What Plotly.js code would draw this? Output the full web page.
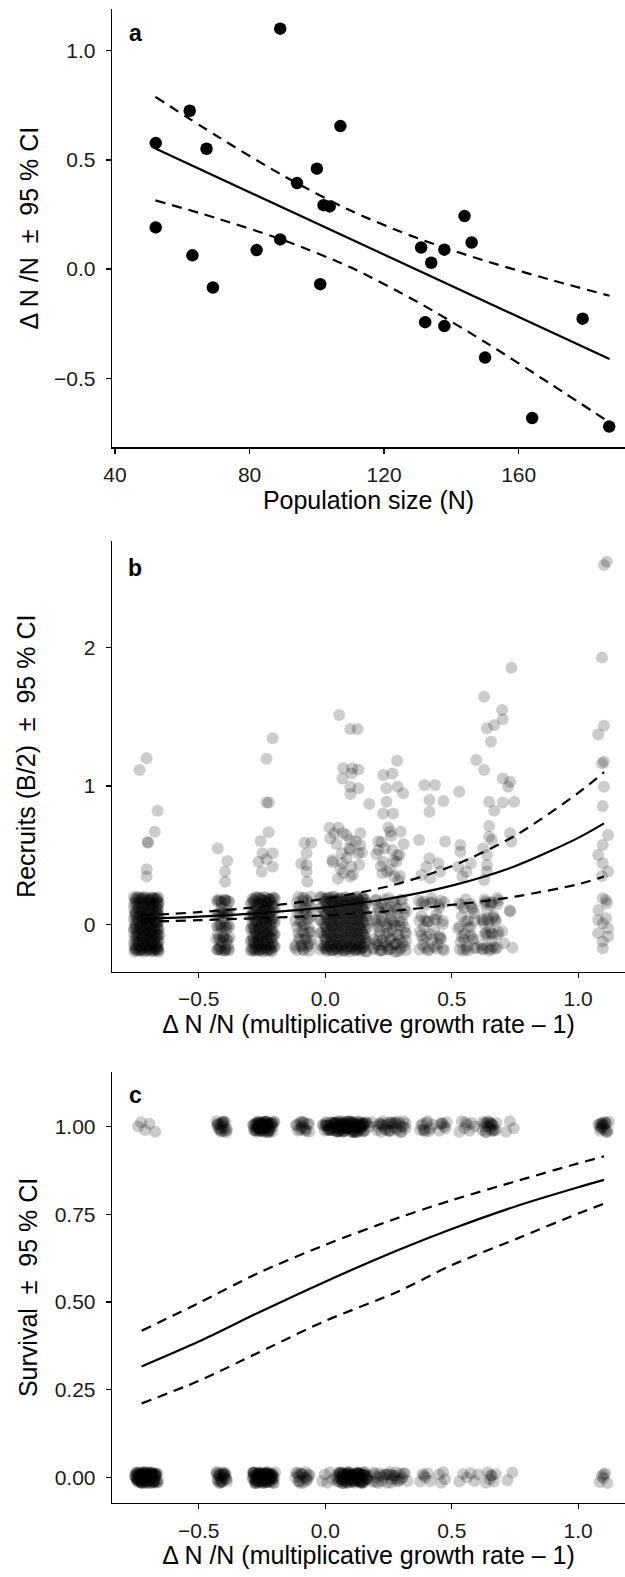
<!DOCTYPE html>
<html>
<head>
<meta charset="utf-8">
<script src="https://cdn.plot.ly/plotly-3.0.1.min.js"></script>
<style>html,body{margin:0;padding:0;background:#fff;}#chart{width:625px;height:1577px;}</style>
</head>
<body>
<div id="chart"></div>
<script>
// ---------- Panel a: growth rate vs population size ----------
var popSize = [52.1,52.1,62.2,63.0,67.2,69.1,82.1,89.1,89.1,94.1,100.0,101.0,102.0,103.8,107.0,131.0,132.2,134.0,137.9,137.9,143.9,146.0,150.0,164.0,179.0,186.9];
var growthRate = [0.577,0.191,0.725,0.063,0.551,-0.084,0.087,1.101,0.136,0.394,0.460,-0.069,0.293,0.287,0.655,0.099,-0.243,0.029,0.089,-0.261,0.243,0.122,-0.405,-0.682,-0.227,-0.721];
var fitA_x  = [52,70,90,110,130,150,170,187];
var fitA    = [0.552,0.423,0.280,0.138,-0.005,-0.148,-0.291,-0.412];
var fitA_hi = [0.789,0.612,0.428,0.268,0.141,0.038,-0.051,-0.122];
var fitA_lo = [0.315,0.234,0.133,0.008,-0.151,-0.334,-0.531,-0.702];

// ---------- Panel b: recruits vs growth rate (jittered points) ----------
var recruitUpperX = [
 -0.734,-0.706,-0.663,-0.674,-0.703,-0.706,-0.706,-0.700,
 -0.425,-0.387,-0.396,-0.396,
 -0.208,-0.232,-0.232,-0.223,-0.224,-0.256,-0.208,-0.264,-0.232,-0.251,-0.208,-0.248,
 -0.082,-0.055,-0.074,-0.074,-0.074,-0.071,-0.095,
 0.055,0.099,0.128,0.071,0.107,0.131,0.068,0.104,0.099,0.131,0.099,0.174,
 0.017,0.052,0.084,0.139,0.099,0.065,0.099,0.131,0.028,0.068,0.103,0.099,0.071,0.139,0.036,
 0.229,0.265,0.284,0.242,0.286,0.308,0.242,0.268,0.229,0.257,0.298,0.222,0.265,0.294,0.210,0.229,0.281,0.257,0.273,0.226,0.289,0.202,
 0.392,0.434,0.412,0.467,0.412,0.371,0.474,0.412,0.400,0.447,0.415,0.380,0.455,
 0.530,0.534,0.534,0.576,0.526,0.557,0.542,
 0.628,0.699,0.702,0.668,0.639,0.655,0.597,0.628,0.736,0.702,0.731,0.723,0.648,0.702,0.747,0.668,0.648,0.731,0.648,0.659,0.736,0.624,0.639,0.639,0.639,0.628,
 1.113,1.102,1.094,1.102,1.079,1.094,1.102,1.102,1.097,1.118,1.097,1.079,1.097,1.118,1.094,1.097,1.110,1.079,1.110,1.097,1.118,1.097,1.118,1.079,1.097,1.080,1.113,
 0.020,0.045,0.070,0.095,0.120,0.145,0.030,0.060,0.085,0.110,0.135,0.050,
 0.210,0.235,0.260,0.285,0.310,0.220,0.245,0.270,0.295,0.250
];
var recruitUpperY = [
 1.116,1.200,0.822,0.670,0.595,0.398,0.345,0.590,
 0.549,0.458,0.380,0.308,
 1.345,1.198,0.880,0.880,0.665,0.602,0.513,0.453,0.470,0.380,0.417,0.513,
 0.590,0.590,0.513,0.429,0.380,0.308,0.440,
 1.513,1.412,1.412,1.128,1.128,1.120,1.055,1.090,0.995,0.983,0.942,0.870,
 0.699,0.699,0.646,0.658,0.610,0.513,0.537,0.513,0.465,0.441,0.417,0.345,0.369,0.573,0.658,
 1.080,1.090,1.183,0.983,0.995,0.947,0.887,0.802,0.802,0.670,0.670,0.593,0.537,0.501,0.537,0.453,0.453,0.393,0.345,0.369,0.320,0.506,
 1.007,1.007,0.899,0.892,0.814,0.610,0.598,0.477,0.417,0.441,0.333,0.357,0.381,
 0.959,0.573,0.525,0.441,0.417,0.380,0.345,
 1.646,1.549,1.482,1.441,1.417,1.320,1.188,1.116,1.855,1.055,1.031,0.995,0.887,0.880,0.887,0.822,0.711,0.658,0.634,0.610,0.598,0.549,0.501,0.429,0.381,0.320,
 2.622,2.598,1.930,1.436,1.373,1.164,1.176,0.995,0.855,0.646,0.573,0.501,0.441,0.381,0.349,0.188,0.176,0.031,0.043,0.007,-0.089,-0.125,-0.029,-0.065,-0.173,0.104,0.152,
 0.620,0.580,0.660,0.550,0.600,0.520,0.450,0.400,0.480,0.360,0.430,0.330,
 0.600,0.550,0.640,0.500,0.580,0.420,0.380,0.460,0.350,0.700
];
var recruitBandX = [
 -0.752,-0.738,-0.724,-0.710,-0.696,-0.682,-0.668,-0.660,
 -0.745,-0.731,-0.717,-0.703,-0.689,-0.675,-0.662,-0.755,
 -0.752,-0.738,-0.724,-0.710,-0.696,-0.682,-0.668,-0.660,
 -0.745,-0.731,-0.717,-0.703,-0.689,-0.675,-0.662,-0.755,
 -0.752,-0.738,-0.724,-0.710,-0.696,-0.682,-0.668,-0.660,
 -0.745,-0.731,-0.717,-0.703,-0.689,-0.675,-0.662,-0.755,
 -0.752,-0.738,-0.724,-0.710,-0.696,-0.682,-0.668,-0.660,
 -0.745,-0.731,-0.717,-0.703,-0.689,-0.675,-0.662,-0.755,
 -0.752,-0.738,-0.724,-0.710,-0.696,-0.682,-0.668,-0.660,
 -0.745,-0.731,-0.717,-0.703,-0.689,-0.675,-0.662,-0.755,
 -0.745,-0.722,-0.700,-0.680,-0.660,-0.735,-0.710,-0.690,-0.665,-0.750,
 -0.728,-0.705,-0.684,-0.660,-0.742,-0.718,-0.695,-0.672,-0.755,-0.730,
 -0.706,-0.686,-0.663,-0.745,-0.720,-0.700,-0.678,-0.655,-0.738,-0.714,
 -0.690,-0.668,-0.750,-0.727,-0.703,-0.680,-0.660,-0.712,-0.725,-0.693,-0.707,-0.676,
 -0.428,-0.413,-0.398,-0.383, -0.420,-0.405,-0.390,-0.378, -0.428,-0.413,-0.398,-0.383,
 -0.420,-0.405,-0.390,-0.378, -0.428,-0.413,-0.398,-0.383,
 -0.420,-0.395,-0.410,-0.385,-0.425,-0.400,-0.415,-0.390,-0.425,-0.400,-0.410,-0.385,-0.420,-0.395,-0.405,-0.418,
 -0.287,-0.270,-0.253,-0.236,-0.219,-0.203, -0.279,-0.262,-0.245,-0.228,-0.211,-0.295,
 -0.287,-0.270,-0.253,-0.236,-0.219,-0.203, -0.279,-0.262,-0.245,-0.228,-0.211,-0.295,
 -0.287,-0.270,-0.253,-0.236,-0.219,-0.203, -0.279,-0.262,-0.245,-0.228,-0.211,-0.295,
 -0.287,-0.270,-0.253,-0.236,-0.219,-0.203, -0.279,-0.262,-0.245,-0.228,-0.211,-0.295,
 -0.287,-0.270,-0.253,-0.236,-0.219,-0.203, -0.279,-0.262,-0.245,-0.228,-0.211,-0.295,
 -0.280,-0.260,-0.240,-0.220,-0.270,-0.250,-0.230,-0.210,-0.285,-0.262,-0.243,-0.220,
 -0.275,-0.255,-0.235,-0.212,-0.280,-0.260,-0.240,-0.218,-0.270,-0.250,-0.230,-0.210,
 -0.283,-0.260,-0.240,-0.220,-0.275,-0.255,-0.235,-0.215,-0.248,-0.265,-0.228,
 -0.112,-0.088,-0.064, -0.100,-0.076,-0.055, -0.112,-0.088,-0.064, -0.100,-0.076,-0.055, -0.112,-0.088,-0.064,
 -0.090,-0.070,-0.100,-0.075,-0.085,-0.060,-0.100,-0.080,-0.090,-0.065,-0.105,-0.080,-0.095,-0.070,-0.120,-0.085,-0.060,-0.110,
 -0.005,0.018,0.040,0.062,0.085,0.108,0.130,0.152,
 0.007,0.029,0.051,0.074,0.097,0.119,0.141,0.163,
 -0.005,0.018,0.040,0.062,0.085,0.108,0.130,0.152,
 0.007,0.029,0.051,0.074,0.097,0.119,0.141,0.163,
 -0.005,0.018,0.040,0.062,0.085,0.108,0.130,0.152,
 0.007,0.029,0.051,0.074,0.097,0.119,0.141,0.163,
 -0.005,0.018,0.040,0.062,0.085,0.108,0.130,0.152,
 0.007,0.029,0.051,0.074,0.097,0.119,0.141,0.163,
 -0.005,0.018,0.040,0.062,0.085,0.108,0.130,0.152,
 0.007,0.029,0.051,0.074,0.097,0.119,0.141,0.163,
 0.000,0.024,0.046,0.068,0.090,0.113,0.135,0.157,
 0.000,0.024,0.046,0.068,0.090,0.113,0.135,0.157,
 0.000,0.024,0.046,0.068,0.090,0.113,0.135,0.157,
 0.000,0.024,0.046,0.068,0.090,0.113,0.135,0.157,
 0.000,0.024,0.046,0.068,0.090,0.113,0.135,0.157,
 -0.020,0.006,0.030,0.052,0.079,0.102,0.124,0.146,
 -0.020,0.006,0.030,0.052,0.079,0.102,0.124,0.146,
 -0.020,0.006,0.030,0.052,0.079,0.102,0.124,0.146,
 -0.020,0.006,0.030,0.052,0.079,0.102,0.124,0.146,
 -0.020,0.006,0.030,0.052,0.079,0.102,0.124,0.146,
 0.200,0.235,0.270,0.305, 0.215,0.250,0.285,0.320, 0.200,0.235,0.270,0.305,
 0.215,0.250,0.285,0.320, 0.200,0.235,0.270,0.305, 0.215,0.250,0.285,0.320,
 0.200,0.225,0.250,0.275,0.300,0.210,0.235,0.260,0.285,0.310,0.200,0.225,0.245,0.270,0.295,
 0.215,0.240,0.265,0.290,0.315,0.205,0.230,0.255,0.280,0.300,0.220,0.250,0.275,0.190,0.320,
 0.380,0.415,0.450, 0.395,0.430,0.465, 0.380,0.415,0.450, 0.395,0.430,0.465,
 0.370,0.395,0.420,0.450,0.470,0.380,0.405,0.440,0.465,0.375,0.400,0.430,0.455,0.385,0.410,0.445,0.470,0.390,
 0.540,0.575, 0.555,0.590, 0.540,0.575, 0.555,0.590,
 0.530,0.555,0.580,0.540,0.565,0.590,0.525,0.550,0.575,0.535,0.560,0.585,0.545,0.600,
 0.630,0.655,0.680, 0.640,0.665,0.620, 0.630,0.655,0.680, 0.640,0.665,0.620,
 0.630,0.655,0.680,0.640,0.665,0.625,0.650,0.675,0.640,0.660,0.620,0.655,0.680,0.730,0.740,0.700,0.731,0.707
];
var recruitBandY = [
 0.185,0.193,0.179,0.189,0.176,0.191,0.182,0.195,
 0.140,0.148,0.134,0.144,0.131,0.146,0.137,0.150,
 0.095,0.103,0.089,0.099,0.086,0.101,0.092,0.105,
 0.050,0.058,0.044,0.054,0.041,0.056,0.047,0.060,
 0.005,0.013,-0.001,0.009,-0.004,0.011,0.002,0.015,
 -0.040,-0.032,-0.046,-0.036,-0.049,-0.034,-0.043,-0.030,
 -0.085,-0.077,-0.091,-0.081,-0.094,-0.079,-0.088,-0.075,
 -0.130,-0.122,-0.136,-0.126,-0.139,-0.124,-0.133,-0.120,
 -0.170,-0.162,-0.176,-0.166,-0.179,-0.164,-0.173,-0.160,
 -0.193,-0.186,-0.199,-0.189,-0.196,-0.184,-0.191,-0.197,
 0.18,0.19,0.17,0.19,0.16,0.12,0.14,0.11,0.13,0.08,
 0.06,0.09,0.05,0.07,0.02,0.03,0.00,0.02,-0.03,-0.04,
 -0.02,-0.05,-0.03,-0.08,-0.09,-0.07,-0.10,-0.08,-0.13,-0.14,
 -0.12,-0.15,-0.18,-0.19,-0.17,-0.19,-0.18,0.06,-0.01,0.15,-0.11,-0.06,
 0.172,0.165,0.180,0.168, 0.082,0.090,0.075,0.086, -0.010,-0.002,-0.016,-0.006,
 -0.100,-0.092,-0.108,-0.096, -0.182,-0.175,-0.190,-0.178,
 0.18,0.17,0.12,0.10,0.06,0.04,-0.01,-0.03,-0.07,-0.09,-0.13,-0.15,-0.18,-0.19,0.08,-0.16,
 0.185,0.193,0.179,0.189,0.176,0.191, 0.140,0.148,0.134,0.144,0.131,0.146,
 0.095,0.103,0.089,0.099,0.086,0.101, 0.050,0.058,0.044,0.054,0.041,0.056,
 0.005,0.013,-0.001,0.009,-0.004,0.011, -0.040,-0.032,-0.046,-0.036,-0.049,-0.034,
 -0.085,-0.077,-0.091,-0.081,-0.094,-0.079, -0.130,-0.122,-0.136,-0.126,-0.139,-0.124,
 -0.170,-0.162,-0.176,-0.166,-0.179,-0.164, -0.193,-0.186,-0.199,-0.189,-0.196,-0.184,
 0.18,0.19,0.17,0.18,0.13,0.14,0.12,0.15,0.08,0.07,0.09,0.06,
 0.02,0.03,0.01,0.03,-0.03,-0.04,-0.02,-0.05,-0.08,-0.09,-0.07,-0.10,
 -0.13,-0.14,-0.12,-0.15,-0.18,-0.19,-0.17,-0.19,0.05,-0.11,0.16,
 0.160,0.168,0.154, 0.070,0.078,0.064, -0.020,-0.012,-0.026, -0.110,-0.102,-0.116, -0.185,-0.178,-0.192,
 0.19,0.17,0.13,0.12,0.07,0.05,0.02,0.00,-0.05,-0.06,-0.10,-0.11,-0.15,-0.16,-0.17,-0.19,-0.14,0.08,
 0.185,0.193,0.179,0.189,0.176,0.191,0.182,0.195,
 0.140,0.148,0.134,0.144,0.131,0.146,0.137,0.150,
 0.095,0.103,0.089,0.099,0.086,0.101,0.092,0.105,
 0.050,0.058,0.044,0.054,0.041,0.056,0.047,0.060,
 0.005,0.013,-0.001,0.009,-0.004,0.011,0.002,0.015,
 -0.040,-0.032,-0.046,-0.036,-0.049,-0.034,-0.043,-0.030,
 -0.085,-0.077,-0.091,-0.081,-0.094,-0.079,-0.088,-0.075,
 -0.130,-0.122,-0.136,-0.126,-0.139,-0.124,-0.133,-0.120,
 -0.170,-0.162,-0.176,-0.166,-0.179,-0.164,-0.173,-0.160,
 -0.193,-0.186,-0.199,-0.189,-0.196,-0.184,-0.191,-0.197,
 0.163,0.171,0.157,0.167,0.154,0.169,0.160,0.174,
 0.073,0.081,0.067,0.077,0.064,0.079,0.070,0.084,
 -0.017,-0.009,-0.023,-0.013,-0.026,-0.011,-0.020,-0.006,
 -0.107,-0.099,-0.113,-0.103,-0.116,-0.101,-0.110,-0.096,
 -0.152,-0.144,-0.158,-0.148,-0.161,-0.146,-0.155,-0.141,
 0.118,0.126,0.112,0.122,0.109,0.124,0.115,0.129,
 0.028,0.036,0.022,0.032,0.019,0.034,0.025,0.039,
 -0.062,-0.054,-0.068,-0.058,-0.071,-0.056,-0.065,-0.051,
 -0.182,-0.174,-0.188,-0.178,-0.191,-0.176,-0.185,-0.171,
 0.195,0.187,0.199,0.183,0.192,0.180,0.197,0.186,
 0.170,0.178,0.164,0.174, 0.090,0.098,0.084,0.094, 0.010,0.018,0.004,0.014,
 -0.070,-0.062,-0.076,-0.066, -0.140,-0.132,-0.146,-0.136, -0.190,-0.184,-0.196,-0.188,
 0.18,0.15,0.19,0.16,0.18,0.10,0.12,0.08,0.11,0.07,0.03,0.05,0.00,0.02,-0.01,
 -0.05,-0.07,-0.04,-0.08,-0.06,-0.12,-0.15,-0.11,-0.14,-0.17,-0.19,-0.18,-0.20,-0.17,-0.12,
 0.150,0.158,0.144, 0.030,0.038,0.024, -0.080,-0.072,-0.086, -0.170,-0.162,-0.176,
 0.17,0.14,0.19,0.12,0.16,0.06,0.02,0.07,0.00,-0.05,-0.09,-0.04,-0.10,-0.15,-0.18,-0.14,-0.19,-0.02,
 0.140,0.148, 0.020,0.028, -0.090,-0.082, -0.180,-0.172,
 0.15,0.18,0.12,0.06,0.03,0.08,-0.03,-0.07,-0.02,-0.13,-0.16,-0.10,-0.19,-0.17,
 0.150,0.158,0.144, 0.040,0.048,0.034, -0.070,-0.062,-0.076, -0.170,-0.162,-0.176,
 0.18,0.14,0.19,0.10,0.06,0.01,-0.03,0.02,-0.08,-0.12,-0.15,-0.18,-0.17,0.10,-0.17,-0.05,0.092,-0.137
];
// further zero-band points in the densest columns
var recruitBandMoreX = [
 -0.749,-0.735,-0.721,-0.707,-0.693,-0.679,-0.665,-0.658, -0.742,-0.728,-0.714,-0.700,-0.686,-0.672,-0.756,-0.664,
 -0.749,-0.735,-0.721,-0.707,-0.693,-0.679,-0.665,-0.658, -0.742,-0.728,-0.714,-0.700,-0.686,-0.672,-0.756,-0.664,
 -0.749,-0.735,-0.721,-0.707,-0.693,-0.679,-0.665,-0.658, -0.742,-0.728,-0.714,-0.700,-0.686,-0.672,-0.756,-0.664,
 -0.749,-0.735,-0.721,-0.707,-0.693,-0.679,-0.665,-0.658, -0.742,-0.728,-0.714,-0.700,-0.686,-0.672,-0.756,-0.664,
 -0.749,-0.735,-0.721,-0.707,-0.693,-0.679,-0.665,-0.658, -0.742,-0.728,-0.714,-0.700,-0.686,-0.672,-0.756,-0.664,
 -0.283,-0.266,-0.249,-0.232,-0.215,-0.291, -0.275,-0.258,-0.241,-0.224,-0.207,-0.199,
 -0.283,-0.266,-0.249,-0.232,-0.215,-0.291, -0.275,-0.258,-0.241,-0.224,-0.207,-0.199,
 -0.283,-0.266,-0.249,-0.232,-0.215,-0.291, -0.275,-0.258,-0.241,-0.224,-0.207,-0.199,
 -0.283,-0.266,-0.249,-0.232,-0.215,-0.291, -0.275,-0.258,-0.241,-0.224,-0.207,-0.199,
 -0.283,-0.266,-0.249,-0.232,-0.215,-0.291, -0.275,-0.258,-0.241,-0.224,-0.207,-0.199,
 -0.015,0.012,0.035,0.057,0.080,0.103,0.127,0.149, 0.003,0.023,0.045,0.068,0.092,0.116,0.138,0.160,
 -0.015,0.012,0.035,0.057,0.080,0.103,0.127,0.149, 0.003,0.023,0.045,0.068,0.092,0.116,0.138,0.160,
 -0.015,0.012,0.035,0.057,0.080,0.103,0.127,0.149, 0.003,0.023,0.045,0.068,0.092,0.116,0.138,0.160,
 -0.015,0.012,0.035,0.057,0.080,0.103,0.127,0.149, 0.003,0.023,0.045,0.068,0.092,0.116,0.138,0.160,
 -0.015,0.012,0.035,0.057,0.080,0.103,0.127,0.149, 0.003,0.023,0.045,0.068,0.092,0.116,0.138,0.160,
 -0.424,-0.409,-0.394,-0.380, -0.431,-0.416,-0.401,-0.386, -0.424,-0.409,-0.394,-0.380, -0.431,-0.416,-0.401,-0.386, -0.424,-0.409,-0.394,-0.380,
 -0.106,-0.082,-0.058, -0.118,-0.094,-0.070, -0.106,-0.082,-0.058, -0.118,-0.094,-0.070, -0.106,-0.082,-0.058,
 0.208,0.243,0.278,0.313, 0.190,0.225,0.260,0.295, 0.208,0.243,0.278,0.313, 0.190,0.225,0.260,0.295, 0.208,0.243,0.278,0.313, 0.190,0.225,0.260,0.295,
 0.388,0.423,0.458, 0.372,0.405,0.440, 0.388,0.423,0.458, 0.372,0.405,0.440,
 0.548,0.583, 0.532,0.565, 0.548,0.583, 0.532,0.565,
 0.635,0.660,0.685, 0.625,0.648,0.672, 0.635,0.660,0.685, 0.625,0.648,0.672
];
var recruitBandMoreY = [
 0.165,0.158,0.172,0.161,0.175,0.156,0.168,0.152, 0.118,0.111,0.125,0.114,0.128,0.109,0.121,0.105,
 0.073,0.066,0.080,0.069,0.083,0.064,0.076,0.060, 0.028,0.021,0.035,0.024,0.038,0.019,0.031,0.015,
 -0.017,-0.024,-0.010,-0.021,-0.007,-0.026,-0.014,-0.030, -0.062,-0.069,-0.055,-0.066,-0.052,-0.071,-0.059,-0.075,
 -0.107,-0.114,-0.100,-0.111,-0.097,-0.116,-0.104,-0.120, -0.152,-0.159,-0.145,-0.156,-0.142,-0.161,-0.149,-0.165,
 -0.183,-0.190,-0.176,-0.187,-0.173,-0.192,-0.180,-0.196, 0.197,0.190,0.199,0.186,0.194,0.183,0.198,0.188,
 0.165,0.158,0.172,0.161,0.175,0.156, 0.118,0.111,0.125,0.114,0.128,0.109,
 0.073,0.066,0.080,0.069,0.083,0.064, 0.028,0.021,0.035,0.024,0.038,0.019,
 -0.017,-0.024,-0.010,-0.021,-0.007,-0.026, -0.062,-0.069,-0.055,-0.066,-0.052,-0.071,
 -0.107,-0.114,-0.100,-0.111,-0.097,-0.116, -0.152,-0.159,-0.145,-0.156,-0.142,-0.161,
 -0.183,-0.190,-0.176,-0.187,-0.173,-0.192, 0.197,0.190,0.199,0.186,0.194,0.183,
 0.197,0.190,0.199,0.186,0.194,0.183,0.198,0.188, -0.183,-0.190,-0.176,-0.187,-0.173,-0.192,-0.180,-0.196,
 -0.152,-0.159,-0.145,-0.156,-0.142,-0.161,-0.149,-0.165, -0.107,-0.114,-0.100,-0.111,-0.097,-0.116,-0.104,-0.120,
 -0.062,-0.069,-0.055,-0.066,-0.052,-0.071,-0.059,-0.075, -0.017,-0.024,-0.010,-0.021,-0.007,-0.026,-0.014,-0.030,
 0.028,0.021,0.035,0.024,0.038,0.019,0.031,0.015, 0.073,0.066,0.080,0.069,0.083,0.064,0.076,0.060,
 0.118,0.111,0.125,0.114,0.128,0.109,0.121,0.105, 0.165,0.158,0.172,0.161,0.175,0.156,0.168,0.152,
 0.165,0.158,0.172,0.161, 0.073,0.066,0.080,0.069, -0.017,-0.024,-0.010,-0.021, -0.107,-0.114,-0.100,-0.111, -0.183,-0.190,-0.176,-0.187,
 0.118,0.111,0.125, 0.028,0.021,0.035, -0.062,-0.069,-0.055, -0.152,-0.159,-0.145, 0.197,0.190,0.199,
 0.118,0.111,0.125,0.114, 0.028,0.021,0.035,0.024, -0.017,-0.024,-0.010,-0.021, -0.107,-0.114,-0.100,-0.111, -0.152,-0.159,-0.145,-0.156, -0.183,-0.190,-0.176,-0.187,
 0.165,0.158,0.172, 0.028,0.021,0.035, -0.107,-0.114,-0.100, -0.183,-0.190,-0.176,
 0.118,0.111, -0.017,-0.024, -0.107,-0.114, -0.183,-0.190,
 0.165,0.158,0.172, 0.028,0.021,0.035, -0.062,-0.069,-0.055, -0.183,-0.190,-0.176
];
var fitB_x  = [-0.726,-0.5,-0.25,0,0.25,0.5,0.75,1.0,1.102];
var fitB    = [0.038,0.055,0.082,0.122,0.185,0.28,0.42,0.625,0.73];
var fitB_hi = [0.064,0.088,0.128,0.185,0.275,0.42,0.64,0.95,1.10];
var fitB_lo = [0.018,0.030,0.045,0.065,0.095,0.14,0.20,0.29,0.345];

// ---------- Panel c: survival vs growth rate (jittered points) ----------
var survivedX = [
 -0.740,-0.728,-0.712,-0.695,-0.672,
 -0.430,-0.422,-0.415,-0.410,-0.405,-0.400,-0.395,-0.388,-0.425,-0.412,-0.402,-0.392,
 -0.285,-0.279,-0.273,-0.267,-0.261,-0.255,-0.249,-0.243,-0.237,-0.231,-0.225,-0.219,-0.213,-0.207,-0.201,
 -0.282,-0.276,-0.270,-0.264,-0.258,-0.252,-0.246,-0.240,-0.234,-0.228,-0.222,-0.216,-0.210,-0.204,-0.260,
 -0.115,-0.108,-0.100,-0.092,-0.085,-0.078,-0.070,-0.063,-0.095,-0.080,
 -0.010,-0.002,0.006,0.014,0.022,0.030,0.038,0.046,0.054,0.062,0.070,0.078,0.086,0.094,0.102,0.110,0.118,0.126,0.134,0.142,0.150,0.158,0.166,0.174,
 0.002,0.018,0.034,0.050,0.066,0.082,0.098,0.114,0.130,0.146,0.162,
 0.010,0.042,0.074,0.090,0.106,0.122,0.138,0.058,0.026,0.185,
 0.205,0.213,0.221,0.229,0.237,0.245,0.253,0.261,0.269,0.277,0.285,0.293,0.301,0.309,0.317,0.225,0.250,0.275,0.300,0.260,
 0.375,0.385,0.395,0.405,0.415,0.425,0.450,0.460,0.470,0.480,0.390,0.465,
 0.530,0.540,0.550,0.560,0.570,0.580,0.590,0.555,
 0.620,0.628,0.636,0.644,0.652,0.660,0.668,0.676,0.632,0.648,0.664,0.656,
 0.715,0.730,0.745,
 1.080,1.086,1.092,1.098,1.104,1.110,1.116,1.122,1.090,1.100,1.110,1.095,
 0.040,0.048,0.056,0.064,0.072,0.080,0.088,0.096,0.104,0.112,0.120,0.128,0.136,0.144,0.152,
 0.044,0.052,0.060,0.068,0.076,0.084,0.092,0.100,0.108,0.116,0.124,0.132,0.140,0.148,0.156,
 -0.270,-0.265,-0.260,-0.255,-0.250,-0.245,-0.240,-0.235,-0.230,-0.225,-0.268,-0.252,-0.238,-0.222,-0.258
];
var survivedY = [
 1.000,1.012,0.990,1.008,0.985,1.015,0.995,1.005,0.988,1.010,
 1.000,1.012,0.990,1.008,0.985,1.015,0.995,1.005,0.988,1.010,
 1.000,1.012,0.990,1.008,0.985,1.015,0.995,1.005,0.988,1.010,
 1.000,1.012,0.990,1.008,0.985,1.015,0.995,1.005,0.988,1.010,
 1.000,1.012,0.990,1.008,0.985,1.015,0.995,1.005,0.988,1.010,
 1.000,1.012,0.990,1.008,0.985,1.015,0.995,1.005,0.988,1.010,
 1.000,1.012,0.990,1.008,0.985,1.015,0.995,1.005,0.988,1.010,
 1.000,1.012,0.990,1.008,0.985,1.015,0.995,1.005,0.988,1.010,
 1.000,1.012,0.990,1.008,0.985,1.015,0.995,1.005,0.988,1.010,
 1.000,1.012,0.990,1.008,0.985,1.015,0.995,1.005,0.988,1.010,
 1.000,1.012,0.990,1.008,0.985,1.015,0.995,1.005,0.988,1.010,
 1.000,1.012,0.990,1.008,0.985,1.015,0.995,1.005,0.988,1.010,
 1.000,1.012,0.990,1.008,0.985,1.015,0.995,1.005,0.988,1.010,
 1.000,1.012,0.990,1.008,0.985,1.015,0.995,1.005,0.988,1.010,
 1.000,1.012,0.990,1.008,0.985,1.015,0.995,1.005,0.988,1.010,
 1.000,1.012,0.990,1.008,0.985,1.015,0.995,1.005,0.988,1.010,
 1.005,0.992,1.010,0.988,1.014,0.996,1.003,0.986,1.009,0.998,
 1.005,0.992,1.010,0.988,1.014,0.996,1.003,0.986,1.009,0.998,
 1.005,0.992,1.010,0.988,1.014,0.996,1.003,0.986,1.009,0.998,
 1.005,0.992,1.010,0.988,1.014,0.996,1.003,0.986,1.009,0.998,
 1.005,0.992,1.010,0.988,1.014,0.996,1.003,0.986,1.009,0.998,
 1.000,1.012,0.990,1.008
];
var survivedMoreX = [
 -0.284,-0.276,-0.268,-0.260,-0.252,-0.244,-0.236,-0.228,-0.220,-0.212,
 -0.280,-0.272,-0.264,-0.256,-0.248,-0.240,-0.232,-0.224,-0.216,-0.208,
 -0.006,0.010,0.026,0.042,0.058,0.074,0.090,0.106,0.122,0.138,
 0.002,0.018,0.034,0.050,0.066,0.082,0.098,0.114,0.130,0.146,
 0.004,0.020,0.036,0.052,0.068,0.084,0.100,0.116,0.132,0.148,
 0.012,0.028,0.044,0.060,0.076,0.092,0.108,0.124,0.140,0.156,
 -0.428,-0.418,-0.408,-0.398,-0.423,-0.413,-0.403,-0.393,
 0.208,0.218,0.228,0.238,0.248,0.258,0.268,0.278,0.288,0.298,0.308,0.318,
 -0.112,-0.100,-0.088,-0.076,-0.064,-0.094,
 0.624,0.634,0.644,0.654,0.664,0.674,0.638,0.658,
 1.084,1.094,1.104,1.114,1.089,1.109,
 0.380,0.390,0.400,0.410,0.455,0.475
];
var survivedMoreY = [
 1.003,0.991,1.011,0.987,1.007,0.995,1.014,0.984,1.000,1.009,
 1.003,0.991,1.011,0.987,1.007,0.995,1.014,0.984,1.000,1.009,
 1.003,0.991,1.011,0.987,1.007,0.995,1.014,0.984,1.000,1.009,
 1.003,0.991,1.011,0.987,1.007,0.995,1.014,0.984,1.000,1.009,
 1.003,0.991,1.011,0.987,1.007,0.995,1.014,0.984,1.000,1.009,
 1.003,0.991,1.011,0.987,1.007,0.995,1.014,0.984,1.000,1.009,
 1.003,0.991,1.011,0.987,1.007,0.995,1.014,0.984,1.000,1.009,
 1.003,0.991,1.011,0.987,1.007,0.995,1.014,0.984,1.000,1.009,
 1.003,0.991,1.011,0.987,1.007,0.995,1.014,0.984,1.000,1.009,
 1.003,0.991,1.011,0.987,1.007,0.995,1.014,0.984,1.000,1.009,
 1.003,0.991,1.011,0.987,1.007,0.995
];
var diedX = [
 -0.750,-0.744,-0.738,-0.732,-0.726,-0.720,-0.714,-0.708,-0.702,-0.696,-0.690,-0.684,-0.678,-0.672,-0.666,
 -0.747,-0.741,-0.735,-0.729,-0.723,-0.717,-0.711,-0.705,-0.699,-0.693,-0.687,-0.681,-0.675,-0.669,-0.663,
 -0.748,-0.740,-0.730,-0.722,-0.715,-0.706,-0.698,-0.689,-0.680,-0.671,-0.735,-0.718,-0.701,-0.685,-0.726,
 -0.430,-0.424,-0.418,-0.412,-0.406,-0.400,-0.394,-0.388,-0.427,-0.415,-0.403,-0.391,-0.421,-0.409,-0.397,
 -0.288,-0.282,-0.276,-0.270,-0.264,-0.258,-0.252,-0.246,-0.240,-0.234,-0.228,-0.222,-0.216,-0.210,-0.204,-0.198,
 -0.285,-0.279,-0.273,-0.267,-0.261,-0.255,-0.249,-0.243,-0.237,-0.231,-0.225,-0.219,-0.213,-0.207,-0.201,
 -0.280,-0.268,-0.256,-0.244,-0.232,-0.220,-0.208,-0.262,-0.238,
 -0.118,-0.110,-0.102,-0.094,-0.086,-0.078,-0.070,-0.062,-0.106,-0.090,-0.074,-0.098,
 -0.012,-0.002,0.008,0.018,0.030,0.042,
 0.050,0.056,0.062,0.068,0.074,0.080,0.086,0.092,0.098,0.104,0.110,0.116,0.122,0.128,0.134,0.140,0.146,0.152,0.158,0.164,
 0.053,0.059,0.065,0.071,0.077,0.083,0.089,0.095,0.101,0.107,0.113,0.119,0.125,0.131,0.137,0.143,0.149,0.155,0.170,0.176,
 0.185,0.195,0.205,0.215,0.225,0.235,0.245,0.255,0.265,0.275,0.285,0.295,0.305,0.315,0.325,0.240,0.260,0.280,0.300,0.220,
 0.375,0.385,0.395,0.405,0.415,0.450,0.458,0.466,0.474,0.390,
 0.530,0.545,0.560,0.575,0.590,0.605,
 0.635,0.642,0.650,0.658,0.666,0.674,0.654,
 0.720,0.740,
 1.085,1.093,1.100,1.107,1.115,1.100,
 -0.745,-0.737,-0.729,-0.721,-0.713,-0.705,-0.697,-0.689,-0.681,-0.673,-0.742,-0.725,-0.709,-0.693,-0.677,
 -0.283,-0.271,-0.259,-0.247,-0.235,-0.223,-0.211,-0.277,-0.265,-0.253,-0.241,-0.229,-0.217,-0.205,-0.250,
 0.060,0.070,0.080,0.090,0.100,0.110,0.120,0.130,0.140,0.150,0.065,0.075,0.085,0.095,0.105,0.115,0.125,0.135,0.145,0.155
];
var diedY = [
 0.000,0.012,-0.010,0.008,-0.015,0.015,-0.005,0.005,-0.012,0.010,
 0.000,0.012,-0.010,0.008,-0.015,0.015,-0.005,0.005,-0.012,0.010,
 0.000,0.012,-0.010,0.008,-0.015,0.015,-0.005,0.005,-0.012,0.010,
 0.000,0.012,-0.010,0.008,-0.015,0.015,-0.005,0.005,-0.012,0.010,
 0.000,0.012,-0.010,0.008,-0.015,0.015,-0.005,0.005,-0.012,0.010,
 0.000,0.012,-0.010,0.008,-0.015,0.015,-0.005,0.005,-0.012,0.010,
 0.000,0.012,-0.010,0.008,-0.015,0.015,-0.005,0.005,-0.012,0.010,
 0.000,0.012,-0.010,0.008,-0.015,0.015,-0.005,0.005,-0.012,0.010,
 0.000,0.012,-0.010,0.008,-0.015,0.015,-0.005,0.005,-0.012,0.010,
 0.000,0.012,-0.010,0.008,-0.015,0.015,-0.005,0.005,-0.012,0.010,
 0.000,0.012,-0.010,0.008,-0.015,0.015,-0.005,0.005,-0.012,0.010,
 0.000,0.012,-0.010,0.008,-0.015,0.015,-0.005,0.005,-0.012,0.010,
 0.000,0.012,-0.010,0.008,-0.015,0.015,-0.005,0.005,-0.012,0.010,
 0.000,0.012,-0.010,0.008,-0.015,0.015,-0.005,0.005,-0.012,0.010,
 0.000,0.012,-0.010,0.008,-0.015,0.015,-0.005,0.005,-0.012,0.010,
 0.000,0.012,-0.010,0.008,-0.015,0.015,-0.005,0.005,-0.012,0.010,
 0.000,0.012,-0.010,0.008,-0.015,0.015,-0.005,0.005,-0.012,0.010,
 0.000,0.012,-0.010,0.008,-0.015,0.015,-0.005,0.005,-0.012,0.010,
 0.000,0.012,-0.010,0.008,-0.015,0.015,-0.005,0.005,-0.012,0.010,
 0.000,0.012,-0.010,0.008,-0.015,0.015,-0.005,0.005,-0.012,0.010,
 0.006,-0.008,0.014,-0.013,0.003,-0.002,0.011,-0.016,0.009,-0.006,
 0.006,-0.008,0.014,-0.013,0.003,-0.002,0.011,-0.016,0.009,-0.006,
 0.006,-0.008,0.014,-0.013,0.003,-0.002,0.011,-0.016,0.009,-0.006,
 0.006,-0.008,0.014,-0.013,0.003,-0.002,0.011,-0.016,0.009,-0.006,
 0.006,-0.008,0.014,-0.013,0.003,-0.002,0.011,-0.016,0.009,-0.006,
 0.000,0.012,-0.010,0.008,-0.015,0.015,-0.005,0.005,-0.012
];
var diedMoreX = [
 -0.752,-0.744,-0.736,-0.728,-0.720,-0.712,-0.704,-0.696,-0.688,-0.680,-0.672,-0.664,
 -0.748,-0.740,-0.732,-0.724,-0.716,-0.708,-0.700,-0.692,-0.684,-0.676,-0.668,-0.660,
 -0.750,-0.742,-0.734,-0.726,-0.718,-0.710,-0.702,-0.694,-0.686,-0.678,-0.670,-0.730,
 -0.286,-0.278,-0.270,-0.262,-0.254,-0.246,-0.238,-0.230,-0.222,-0.214,
 -0.282,-0.274,-0.266,-0.258,-0.250,-0.242,-0.234,-0.226,-0.218,-0.210,
 -0.284,-0.276,-0.268,-0.260,-0.252,-0.244,-0.236,-0.228,-0.220,-0.206,
 0.054,0.066,0.078,0.090,0.102,0.114,0.126,0.138,0.150,0.162,
 0.058,0.070,0.082,0.094,0.106,0.118,0.130,0.142,0.154,0.166,
 0.062,0.074,0.086,0.098,0.110,0.122,0.134,0.146,0.158,0.048,
 -0.428,-0.420,-0.412,-0.404,-0.396,-0.426,-0.416,-0.408,-0.400,-0.392,
 0.190,0.210,0.230,0.250,0.270,0.290,0.310,0.200,0.260,0.280,
 -0.114,-0.098,-0.082,-0.066,-0.106,-0.074
];
var diedMoreY = [
 0.004,-0.009,0.011,-0.013,0.007,-0.003,0.014,-0.016,0.000,0.009,
 0.004,-0.009,0.011,-0.013,0.007,-0.003,0.014,-0.016,0.000,0.009,
 0.004,-0.009,0.011,-0.013,0.007,-0.003,0.014,-0.016,0.000,0.009,
 0.004,-0.009,0.011,-0.013,0.007,-0.003,0.014,-0.016,0.000,0.009,
 0.004,-0.009,0.011,-0.013,0.007,-0.003,0.014,-0.016,0.000,0.009,
 0.004,-0.009,0.011,-0.013,0.007,-0.003,0.014,-0.016,0.000,0.009,
 0.004,-0.009,0.011,-0.013,0.007,-0.003,0.014,-0.016,0.000,0.009,
 0.004,-0.009,0.011,-0.013,0.007,-0.003,0.014,-0.016,0.000,0.009,
 0.004,-0.009,0.011,-0.013,0.007,-0.003,0.014,-0.016,0.000,0.009,
 0.004,-0.009,0.011,-0.013,0.007,-0.003,0.014,-0.016,0.000,0.009,
 0.004,-0.009,0.011,-0.013,0.007,-0.003,0.014,-0.016,0.000,0.009,
 0.004,-0.009,0.011,-0.013,0.007,-0.003,0.014,-0.016,0.000,0.009,
 0.004,-0.009
];
var fitC_x  = [-0.726,-0.5,-0.263,0,0.289,0.5,0.763,1.0,1.102];
var fitC    = [0.316,0.387,0.470,0.558,0.648,0.708,0.775,0.827,0.848];
var fitC_hi = [0.418,0.497,0.583,0.663,0.740,0.790,0.846,0.895,0.915];
var fitC_lo = [0.211,0.275,0.356,0.446,0.530,0.605,0.682,0.752,0.780];

// ---------- Labels ----------
var xTitleA = 'Population size (N)';
var yTitleA = '\u0394 N /N  \u00b1  95 % CI';
var xTitleBC = '\u0394 N /N (multiplicative growth rate \u2013 1)';
var yTitleB = 'Recruits (B/2)  \u00b1  95 % CI';
var yTitleC = 'Survival  \u00b1  95 % CI';
var ticksA_x = [40,80,120,160];
var ticksA_y = [-0.5,0,0.5,1.0];
var ticksBC_x = [-0.5,0,0.5,1.0];
var ticksB_y = [0,1,2];
var ticksC_y = [0,0.25,0.5,0.75,1.0];

var FONT = '"Liberation Sans", Arial, Helvetica, sans-serif';
var jitterColor = 'rgba(0,0,0,0.2)';
var DASH = '10px,7px';

function lineTrace(x, y, xa, ya, dash, shape) {
  return {x: x, y: y, xaxis: xa, yaxis: ya, type: 'scatter', mode: 'lines',
          line: {color: '#000', width: 2.2, dash: dash, shape: shape || 'spline', smoothing: 0.8},
          hoverinfo: 'skip', showlegend: false};
}

var traces = [
  {x: popSize, y: growthRate, xaxis: 'x', yaxis: 'y', type: 'scatter', mode: 'markers',
   marker: {color: '#000', size: 12.5, line: {width: 0}}, showlegend: false},
  lineTrace(fitA_x, fitA, 'x', 'y', 'solid', 'linear'),
  lineTrace(fitA_x, fitA_hi, 'x', 'y', DASH),
  lineTrace(fitA_x, fitA_lo, 'x', 'y', DASH),

  {x: recruitUpperX.concat(recruitBandX, recruitBandMoreX), y: recruitUpperY.concat(recruitBandY, recruitBandMoreY),
   xaxis: 'x2', yaxis: 'y2', type: 'scatter', mode: 'markers',
   marker: {color: jitterColor, size: 12, line: {width: 0}}, showlegend: false},
  lineTrace(fitB_x, fitB, 'x2', 'y2', 'solid'),
  lineTrace(fitB_x, fitB_hi, 'x2', 'y2', DASH),
  lineTrace(fitB_x, fitB_lo, 'x2', 'y2', DASH),

  {x: survivedX.concat(survivedMoreX, diedX, diedMoreX), y: survivedY.concat(survivedMoreY, diedY, diedMoreY),
   xaxis: 'x3', yaxis: 'y3', type: 'scatter', mode: 'markers',
   marker: {color: jitterColor, size: 12, line: {width: 0}}, showlegend: false},
  lineTrace(fitC_x, fitC, 'x3', 'y3', 'solid'),
  lineTrace(fitC_x, fitC_hi, 'x3', 'y3', DASH),
  lineTrace(fitC_x, fitC_lo, 'x3', 'y3', DASH)
];

function axisBase() {
  return {showline: true, linecolor: '#000', linewidth: 1.3, mirror: false,
          ticks: 'outside', ticklen: 5, tickwidth: 1.3, tickcolor: '#000',
          showgrid: false, zeroline: false, fixedrange: true,
          tickfont: {family: FONT, size: 21, color: '#1a1a1a'}};
}
function merge(a, b) { for (var k in b) a[k] = b[k]; return a; }
var titleFont = {family: FONT, size: 25, color: '#000'};

var layout = {
  width: 625, height: 1577,
  margin: {l: 112, r: 0, t: 9, b: 74, pad: 0},
  paper_bgcolor: '#fff', plot_bgcolor: '#fff',
  font: {family: FONT, color: '#000'},
  showlegend: false,
  xaxis: merge(axisBase(), {domain: [0, 1], anchor: 'y', range: [39.1, 191.6], tickvals: ticksA_x,
    ticklabelstandoff: 3, title: {text: xTitleA, font: titleFont, standoff: 6}}),
  yaxis: merge(axisBase(), {domain: [0.7066, 1], anchor: 'x', range: [-0.816, 1.191], tickvals: ticksA_y, tickformat: '.1f',
    ticklabelstandoff: 6, title: {text: yTitleA, font: titleFont, standoff: 8}}),
  xaxis2: merge(axisBase(), {domain: [0, 1], anchor: 'y2', range: [-0.843, 1.185], tickvals: ticksBC_x, tickformat: '.1f',
    ticklabelstandoff: 3, title: {text: xTitleBC, font: titleFont, standoff: 6}}),
  yaxis2: merge(axisBase(), {domain: [0.3556, 0.6441], anchor: 'x2', range: [-0.343, 2.774], tickvals: ticksB_y,
    ticklabelstandoff: 6, title: {text: yTitleB, font: titleFont, standoff: 41}}),
  xaxis3: merge(axisBase(), {domain: [0, 1], anchor: 'y3', range: [-0.843, 1.185], tickvals: ticksBC_x, tickformat: '.1f',
    ticklabelstandoff: 3, title: {text: xTitleBC, font: titleFont, standoff: 6}}),
  yaxis3: merge(axisBase(), {domain: [0, 0.2886], anchor: 'x3', range: [-0.073, 1.156], tickvals: ticksC_y, tickformat: '.2f',
    ticklabelstandoff: 6, title: {text: yTitleC, font: titleFont, standoff: 10}}),
  annotations: [
    {text: '<b>a</b>', xref: 'x domain', yref: 'y domain', x: 0.045, y: 0.946, xanchor: 'center', yanchor: 'middle', showarrow: false, font: {family: FONT, size: 23, color: '#000'}},
    {text: '<b>b</b>', xref: 'x2 domain', yref: 'y2 domain', x: 0.045, y: 0.9367, xanchor: 'center', yanchor: 'middle', showarrow: false, font: {family: FONT, size: 23, color: '#000'}},
    {text: '<b>c</b>', xref: 'x3 domain', yref: 'y3 domain', x: 0.045, y: 0.9464, xanchor: 'center', yanchor: 'middle', showarrow: false, font: {family: FONT, size: 23, color: '#000'}}
  ]
};

Plotly.newPlot('chart', traces, layout, {staticPlot: true, displayModeBar: false});
</script>
</body>
</html>
